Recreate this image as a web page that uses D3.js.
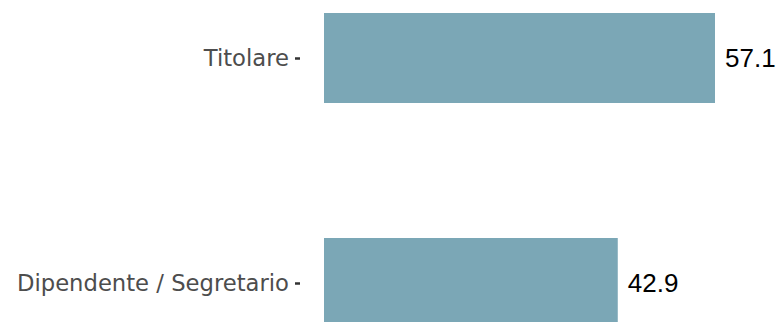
<!DOCTYPE html>
<html>
<head>
<meta charset="utf-8">
<script src="https://cdn.jsdelivr.net/npm/d3@7"></script>
<style>
  body { margin: 0; background: #fff; }
</style>
</head>
<body>
<div id="chart"></div>
<script>
const categories = ["Titolare", "Dipendente / Segretario"];
const values = [57.1, 42.9];

const width = 777, height = 322;

const svg = d3.select("#chart").append("svg")
    .attr("width", width)
    .attr("height", height);

const x = d3.scaleLinear().domain([0, d3.max(values)]).range([324, 715]);
const y = d3.scalePoint().domain(categories).range([58, 283]);
const barH = y.step() * 0.4;

// bars
svg.selectAll("rect.bar")
    .data(categories)
    .enter().append("rect")
    .attr("class", "bar")
    .attr("x", x(0))
    .attr("y", d => y(d) - barH / 2)
    .attr("width", (d, i) => x(values[i]) - x(0))
    .attr("height", barH)
    .attr("fill", "#7BA7B6");

// value labels
svg.selectAll("text.val")
    .data(categories)
    .enter().append("text")
    .attr("class", "val")
    .attr("x", (d, i) => x(values[i]) + 10)
    .attr("y", d => y(d))
    .attr("dy", "0.36em")
    .style("font-family", "Liberation Sans, Arial, sans-serif")
    .style("font-size", "26px")
    .attr("fill", "#000")
    .text((d, i) => values[i].toFixed(1));

// y axis
const yAxis = d3.axisLeft(y).tickSize(5).tickPadding(6);
const gy = svg.append("g")
    .attr("transform", "translate(300,0)")
    .call(yAxis);
gy.select(".domain").remove();
gy.selectAll(".tick line").attr("stroke", "#333").attr("stroke-width", 2.5);
gy.selectAll(".tick text")
    .style("font-family", "DejaVu Sans, sans-serif")
    .style("font-size", "22.7px")
    .attr("fill", "#4D4D4D");
</script>
</body>
</html>
